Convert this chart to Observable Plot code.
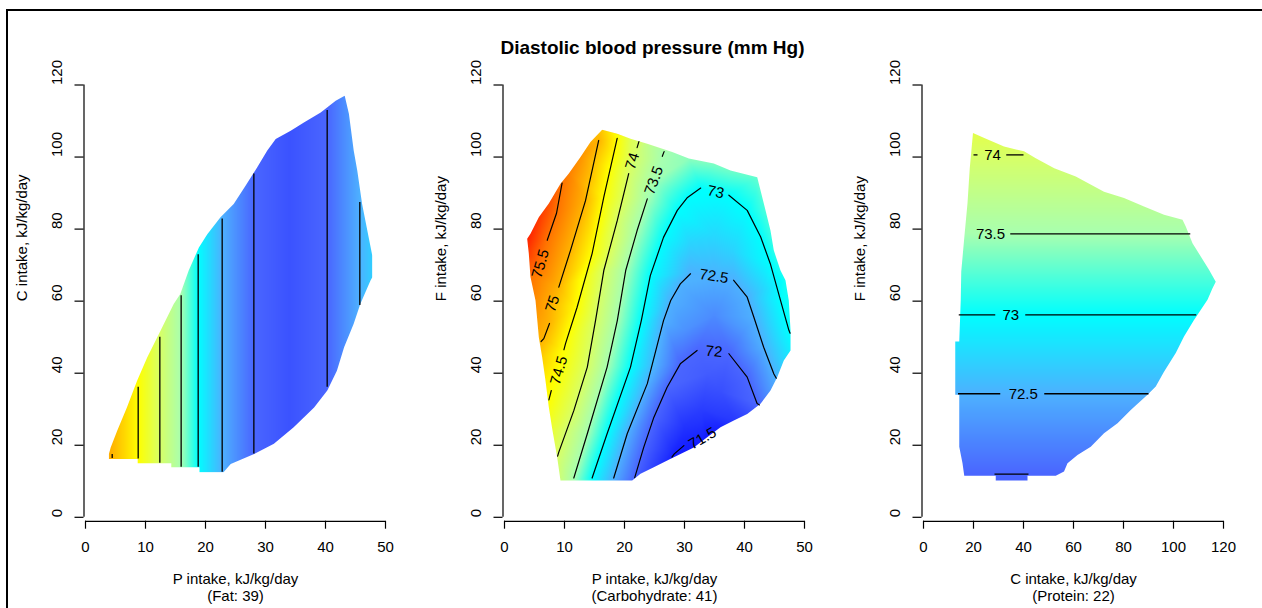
<!DOCTYPE html>
<html>
<head>
<meta charset="utf-8">
<script src="https://cdn.jsdelivr.net/npm/d3@7"></script>
<script src="https://cdn.jsdelivr.net/npm/@observablehq/plot@0.6"></script>
<style>
html,body{margin:0;padding:0;background:#fff;width:1262px;height:608px;overflow:hidden;font-family:"Liberation Sans",Arial,sans-serif;}
#border{position:absolute;left:6px;top:9px;width:1300px;height:700px;border-left:2px solid #000;border-top:2px solid #000;}
#title{position:absolute;left:0;top:36px;width:1305px;text-align:center;font-weight:bold;font-size:19px;line-height:24px;color:#000;}
.panel{position:absolute;top:0;}
</style>
</head>
<body>
<div id="border"></div>
<div id="title">Diastolic blood pressure (mm Hg)</div>
<div id="p1" class="panel" style="left:0px"></div>
<div id="p2" class="panel" style="left:419px"></div>
<div id="p3" class="panel" style="left:838px"></div>
<script>
// ---------- shared ----------
const yTicks = [0, 20, 40, 60, 80, 100, 120];
const colorLevels = [71.3, 71.6, 72.0, 72.5, 73.0, 73.5, 74.0, 74.5, 75.0, 75.5, 76.1];
const colorValues = ["#0000ff", "#2233ff", "#4a66ff", "#4db1ff", "#00ffff", "#a8ffb0", "#d8ff66", "#ffff00", "#ffb400", "#ff7300", "#ff1a00"];

// ---------- panel 1: P intake vs C intake (Fat: 39) ----------
const p1XTicks = [0, 10, 20, 30, 40, 50];
const p1Boundary = [[3.9,16.2],[3.9,17.6],[4.2,19.4],[5.3,24.1],[6.9,30.5],[8.6,37.9],[10.3,44.4],[12.5,51.8],[14.7,59.2],[15.8,62.0],[17.2,68.5],[18.9,74.9],[20.3,78.6],[22.5,83.3],[24.7,87.0],[26.7,92.1],[28.6,97.1],[30.3,101.8],[31.7,105.0],[34.2,107.3],[36.4,109.6],[39.2,112.4],[41.7,115.6],[43.2,117.0],[43.9,112.0],[44.7,101.8],[45.3,96.2],[46.1,87.0],[47.2,77.7],[47.8,72.6],[47.8,66.6],[47.5,65.7],[45.8,59.2],[44.7,53.7],[43.1,47.2],[41.9,40.7],[40.3,35.2],[38.1,30.5],[34.7,25.0],[31.4,20.4],[28.1,17.6],[24.2,14.8],[23.0,12.5],[19.0,12.5],[19.0,13.9],[14.3,13.9],[14.3,15.0],[8.7,15.0],[8.7,16.2]];
const p1SampleX = [3.5, 4.45, 8.78, 12.39, 15.94, 18.78, 22.78, 28.06, 34.0, 40.28, 45.72, 48.5];
const p1SampleV = [75.1, 75.0, 74.5, 74.0, 73.5, 73.0, 72.5, 72.0, 71.85, 72.0, 72.5, 72.75];
const p1LineX = [4.45, 8.78, 12.39, 15.94, 18.78, 22.78, 28.06, 40.28, 45.72];
const p1LineBottom = [16.3, 16.2, 15.0, 13.9, 13.9, 12.5, 17.6, 36.1, 58.8];
const p1LineTop = [17.4, 36.1, 50.0, 61.5, 72.9, 82.8, 95.3, 112.9, 87.4];

// ---------- panel 2: P intake vs F intake (Carbohydrate: 41) ----------
const p2XTicks = [0, 10, 20, 30, 40, 50];
const p2Boundary = [[3.78,77.3],[4.33,78.7],[5.72,83.3],[7.38,87.1],[9.33,92.6],[10.72,95.4],[12.67,100.0],[14.33,104.2],[16.28,107.6],[18.78,106.5],[21.0,105.1],[23.78,103.7],[27.95,101.4],[30.72,99.6],[34.88,98.2],[37.67,96.3],[42.12,94.4],[43.5,85.2],[44.33,79.6],[44.88,74.1],[46.0,68.5],[46.83,65.8],[47.38,60.2],[47.67,51.9],[47.67,46.3],[46.55,43.5],[45.45,38.9],[44.33,35.2],[42.67,31.5],[40.45,28.7],[38.22,26.9],[36.0,25.0],[33.78,22.2],[31.55,19.4],[29.33,17.6],[27.12,15.75],[24.88,13.9],[22.67,12.1],[21.28,10.2],[9.33,10.2],[8.78,16.7],[7.95,24.6],[7.38,30.6],[6.83,38.0],[6.28,44.4],[5.72,50.0],[5.17,60.2],[4.33,66.7],[4.05,73.2]];
const p2Contours = [
  {level: 75.5, points: [[9.6,92.8],[8.67,84.4],[7.12,76.9]]},
  {level: 75,   points: [[15.7,104.6],[13.5,87.9],[11.0,74.1],[9.05,63.9]]},
  {level: 75,   points: [[7.5,53.8],[6.55,49.6],[6.1,48.8]]},
  {level: 74.5, points: [[18.78,105.2],[16.55,88.9],[14.6,73.2],[12.1,58.3],[10.17,48.2],[9.9,46.5]]},
  {level: 74.5, points: [[7.8,35.2],[7.4,32.6]]},
  {level: 74,   points: [[22.4,104.3],[22.1,102.6]]},
  {level: 74,   points: [[20.7,95.4],[18.8,82.4],[16.55,68.5],[15.17,54.6],[13.8,41.7],[11.55,29.6],[9.05,18.1],[8.85,17.0]]},
  {level: 73.5, points: [[26.6,101.5],[26.3,100.2]]},
  {level: 73.5, points: [[23.8,88.4],[22.1,79.6],[20.2,68.5],[18.8,54.6],[17.1,41.7],[13.8,23.2],[11.55,10.9]]},
  {level: 73,   points: [[14.6,10.9],[17.1,23.2],[21.0,41.7],[22.8,54.6],[24.3,67.1],[26.5,77.7],[28.8,85.2],[30.5,88.8],[32.7,91.4]]},
  {level: 73,   points: [[37.4,89.4],[40.45,85.2],[42.7,77.8],[44.3,70.4],[46.0,60.2],[47.4,51.9],[47.6,51.1]]},
  {level: 72.5, points: [[18.2,10.9],[20.45,23.2],[23.8,37.1],[26.5,54.6],[27.7,60.2],[29.3,64.8],[31.0,67.6]]},
  {level: 72.5, points: [[38.2,65.8],[40.45,61.1],[41.55,55.6],[43.2,47.2],[44.9,39.8],[45.3,38.6]]},
  {level: 72,   points: [[21.7,11.0],[23.2,19.4],[24.9,27.8],[27.1,36.1],[29.3,42.6],[32.1,46.3]]},
  {level: 72,   points: [[37.4,45.4],[40.45,38.9],[42.1,31.6],[42.5,31.2]]},
  {level: 71.5, points: [[27.9,16.7],[28.3,17.6],[29.9,19.9]]}
];
const p2LabelLevels = [75.5, 75, 74.5, 74, 73.5, 73, 72.5, 72, 71.5];
const p2LabelX = [6.0, 8.0, 9.05, 21.3, 24.9, 35.2, 34.9, 34.9, 33.0];
const p2LabelY = [70.4, 59.3, 40.75, 98.9, 93.5, 90.3, 66.9, 46.0, 21.9];
const p2LabelAngle = [-74, -72, -74, -73, -70, 12, 9, 6, -30];
const p2ExtraSamples = [
  [3.78,77.3,76.05],[4.33,78.7,76.0],[5.72,83.3,75.9],[7.38,87.1,75.75],[4.05,73.2,75.85],[4.4,67.0,75.5],[5.17,60.2,75.3],[5.6,53,75.12],
  [10.72,95.4,75.4],[12.67,100,75.25],[14.33,104.2,75.05],[16.28,107.6,74.85],
  [21.0,105.1,74.1],[23.78,103.7,73.75],[27.95,101.4,73.47],[30.72,99.6,73.42],[34.88,98.2,73.38],[37.67,96.3,73.34],[42.12,94.4,73.3],[43.5,85.2,73.22],[44.88,74.1,73.12],[46.83,65.8,73.06],
  [47.67,46.3,72.9],[46.55,43.5,72.75],[44.33,35.2,72.35],[40.45,28.7,71.8],[38.22,26.9,71.65],[36.0,25.0,71.52],[33.78,22.2,71.45],[31.55,19.4,71.46],[27.12,15.75,71.55],[24.88,13.9,71.72],[22.67,12.1,71.9],
  [21.28,10.2,72.02],[9.33,10.2,73.85],[8.78,16.7,74.0],[7.95,24.6,74.25],[6.83,38.0,74.6],[6.28,44.4,74.82],
  [33,30,71.68],[30,25,71.6],[36,35,71.82],[34,40,71.92],[35,78,72.75],[38,74,72.72],[31,76,72.72],[35,56,72.25],[30,52,72.3],[40,52,72.35],[42,90,73.18]
];

// ---------- panel 3: C intake vs F intake (Protein: 22) ----------
const p3XTicks = [0, 20, 40, 60, 80, 100, 120];
const p3Boundary = [[16.3,11.5],[15.6,15.0],[14.3,19.6],[14.3,34.0],[12.7,34.0],[12.7,48.8],[14.3,48.8],[14.9,60.4],[15.1,68.2],[16.3,77.5],[17.6,87.2],[18.5,96.9],[19.8,106.7],[24.3,105.3],[32.2,102.9],[40.2,101.6],[44.9,99.7],[52.3,96.9],[60.9,94.6],[72.2,90.4],[80.2,88.6],[88.2,86.3],[96.2,84.0],[103.6,82.6],[104.9,80.7],[107.6,76.1],[110.9,72.4],[114.2,68.7],[116.9,65.4],[115.6,63.6],[113.6,60.4],[108.2,54.8],[104.2,50.2],[100.9,45.6],[96.2,40.4],[92.9,36.3],[89.6,34.0],[82.9,29.8],[77.6,26.1],[72.2,23.3],[66.9,19.6],[61.6,17.3],[57.6,15.0],[56.2,12.7],[52.9,11.5],[41.6,11.5],[41.6,10.2],[28.9,10.2],[28.9,11.5]];
const p3SampleY = [8, 12.0, 34.3, 56.2, 78.7, 100.6, 110];
const p3SampleV = [71.92, 72.0, 72.5, 73.0, 73.5, 74.0, 74.2];
const p3SegLevel = [74, 74, 73.5, 73, 73, 72.5, 72.5, 72];
const p3SegX1 = [20.2, 33.3, 34.9, 14.3, 40.9, 14.0, 48.5, 28.6];
const p3SegX2 = [21.8, 40.2, 106.9, 28.9, 109.3, 30.9, 90.2, 42.2];
const p3LevelList = [74, 73.5, 73, 72.5, 72];
const p3LevelY = [100.6, 78.7, 56.2, 34.3, 12.0];
const p3LabelLevels = [74, 73.5, 73, 72.5];
const p3LabelX = [27.6, 26.8, 34.9, 39.9];

// ---------- builders ----------
const colorScale = {type: "linear", domain: colorLevels, range: colorValues, interpolate: "rgb", clamp: true};
const FONT = "'Liberation Sans', Arial, sans-serif";

function makePanel(cfg) {
  const svg = Plot.plot({
    width: 419, height: 608,
    marginLeft: 83.5, marginRight: 34, marginTop: 84.5, marginBottom: 87.3,
    x: {domain: [0, cfg.xmax], range: [85, 385]},
    y: {domain: [0, 120], range: [516.8, 84.5]},
    color: colorScale,
    style: {fontFamily: FONT, background: "transparent", overflow: "visible", color: "black"},
    marks: [
      Plot.raster(cfg.samples, {x: d => d[0], y: d => d[1], fill: d => d[2], interpolate: "barycentric", pixelSize: 1}),
      ...cfg.marks,
      Plot.ruleX([0], {y1: 0, y2: 120, dx: -1.5, stroke: "black", strokeWidth: 1.2}),
      Plot.ruleY([0], {x1: 0, x2: cfg.xmax, dy: 4, stroke: "black", strokeWidth: 1.2}),
      Plot.axisX(cfg.xticks, {tickSize: 8, tickPadding: 12, fontSize: 15, label: null, strokeWidth: 1.2}),
      Plot.axisY(yTicks, {tickSize: 9, tickFormat: () => "", label: null, strokeWidth: 1.2}),
      Plot.text(yTicks, {y: d => d, text: d => String(d), frameAnchor: "left", dx: -27, rotate: -90, fontSize: 15}),
      Plot.text([cfg.ylabel], {y: 60, text: d => d, frameAnchor: "left", dx: -61.5, rotate: -90, fontSize: 15}),
      Plot.text([cfg.xlabel], {x: cfg.xmax / 2, text: d => d, frameAnchor: "bottom", dy: 62.3, fontSize: 15}),
      Plot.text([cfg.xnote], {x: cfg.xmax / 2, text: d => d, frameAnchor: "bottom", dy: 80, fontSize: 15})
    ]
  });
  // clip the raster surface to the region of the data
  const sx = svg.scale("x"), sy = svg.scale("y");
  const ns = "http://www.w3.org/2000/svg";
  const defs = document.createElementNS(ns, "defs");
  const cp = document.createElementNS(ns, "clipPath");
  cp.setAttribute("id", cfg.id + "-clip");
  const path = document.createElementNS(ns, "path");
  path.setAttribute("d", "M" + cfg.boundary.map(([x, y]) => `${sx.apply(x)},${sy.apply(y)}`).join("L") + "Z");
  cp.appendChild(path);
  defs.appendChild(cp);
  svg.insertBefore(defs, svg.firstChild);
  const rg = svg.querySelector('g[aria-label="raster"]');
  if (rg) rg.setAttribute("clip-path", `url(#${cfg.id}-clip)`);
  document.getElementById(cfg.id).appendChild(svg);
}

// panel 1
const p1Samples = [];
p1SampleX.forEach((x, i) => { p1Samples.push([x, 0, p1SampleV[i]], [x, 120, p1SampleV[i]]); });
const p1Lines = p1LineX.map((x, i) => ({x, y1: p1LineBottom[i], y2: p1LineTop[i]}));
makePanel({
  id: "p1", xmax: 50, xticks: p1XTicks, boundary: p1Boundary, samples: p1Samples,
  ylabel: "C intake, kJ/kg/day", xlabel: "P intake, kJ/kg/day", xnote: "(Fat: 39)",
  marks: [Plot.ruleX(p1Lines, {x: "x", y1: "y1", y2: "y2", stroke: "black", strokeWidth: 1.3})]
});

// panel 2
const p2Samples = [];
const p2LinePts = [];
p2Contours.forEach((c, i) => c.points.forEach(([x, y]) => { p2Samples.push([x, y, c.level]); p2LinePts.push({x, y, id: i}); }));
p2LabelLevels.forEach((l, i) => p2Samples.push([p2LabelX[i], p2LabelY[i], l]));
p2ExtraSamples.forEach(s => p2Samples.push(s));
const p2Labels = p2LabelLevels.map((l, i) => ({x: p2LabelX[i], y: p2LabelY[i], text: String(l), angle: p2LabelAngle[i]}));
makePanel({
  id: "p2", xmax: 50, xticks: p2XTicks, boundary: p2Boundary, samples: p2Samples,
  ylabel: "F intake, kJ/kg/day", xlabel: "P intake, kJ/kg/day", xnote: "(Carbohydrate: 41)",
  marks: [
    Plot.line(p2LinePts, {x: "x", y: "y", z: "id", stroke: "black", strokeWidth: 1.2}),
    Plot.text(p2Labels, {x: "x", y: "y", text: "text", rotate: "angle", fontSize: 15, fill: "black"})
  ]
});

// panel 3
const p3Samples = [];
p3SampleY.forEach((y, i) => { p3Samples.push([0, y, p3SampleV[i]], [120, y, p3SampleV[i]]); });
const levelY = l => p3LevelY[p3LevelList.indexOf(l)];
const p3Segs = p3SegLevel.map((l, i) => ({y: levelY(l), x1: p3SegX1[i], x2: p3SegX2[i]}));
const p3Labels = p3LabelLevels.map((l, i) => ({x: p3LabelX[i], y: levelY(l), text: String(l)}));
makePanel({
  id: "p3", xmax: 120, xticks: p3XTicks, boundary: p3Boundary, samples: p3Samples,
  ylabel: "F intake, kJ/kg/day", xlabel: "C intake, kJ/kg/day", xnote: "(Protein: 22)",
  marks: [
    Plot.ruleY(p3Segs, {y: "y", x1: "x1", x2: "x2", stroke: "black", strokeWidth: 1.3}),
    Plot.text(p3Labels, {x: "x", y: "y", text: "text", fontSize: 15, fill: "black"})
  ]
});
</script>
</body>
</html>
